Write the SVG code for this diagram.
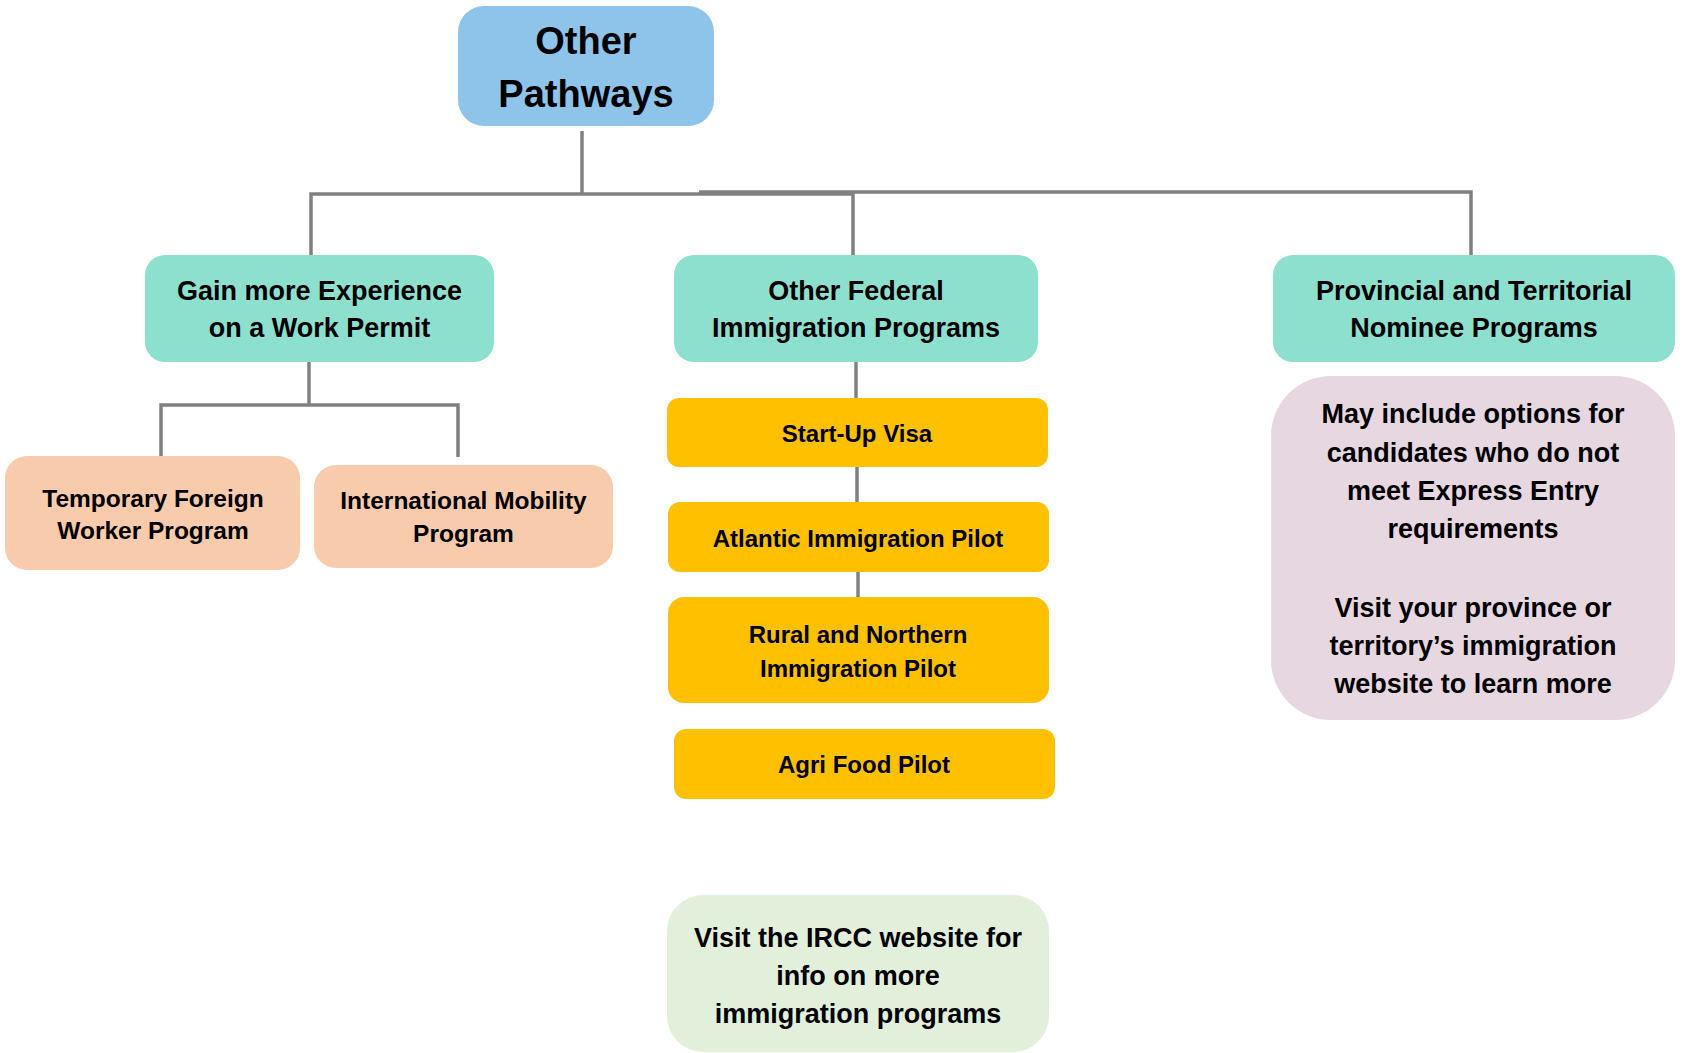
<svg xmlns="http://www.w3.org/2000/svg" width="1682" height="1053" viewBox="0 0 1682 1053">
<style>
text{font-family:"Liberation Sans",Arial,sans-serif;font-weight:bold;fill:#000;text-anchor:middle}
.conn{fill:none;stroke:#808080;stroke-width:3.5}
.t38{font-size:38px}
.t27{font-size:27px}
.t25{font-size:24.5px}
.t24{font-size:24px}
</style>
<rect width="1682" height="1053" fill="#fff"/>
<g id="connectors">
<path class="conn" d="M582,131 V194"/>
<path class="conn" d="M311,255 V194 H853 V255"/>
<path class="conn" d="M699,192 H1471 V257"/>
<path class="conn" d="M309,353 V405"/>
<path class="conn" d="M161,457 V405 H458 V457"/>
<path class="conn" d="M856,362 V400"/>
<path class="conn" d="M857,464 V505"/>
<path class="conn" d="M858,572 V600"/>
</g>
<g id="other-pathways">
<rect x="458" y="6" width="256" height="120" rx="26" fill="#8EC4E9"/>
<text class="t38" x="586" y="54">Other</text>
<text class="t38" x="586" y="107">Pathways</text>
</g>
<g id="work-permit">
<rect x="145" y="255" width="349" height="107" rx="20" fill="#8DE0CE"/>
<text class="t27" x="319.5" y="300">Gain more Experience</text>
<text class="t27" x="319.5" y="337">on a Work Permit</text>
</g>
<g id="federal">
<rect x="674" y="255" width="364" height="107" rx="20" fill="#8DE0CE"/>
<text class="t27" x="856" y="300">Other Federal</text>
<text class="t27" x="856" y="337">Immigration Programs</text>
</g>
<g id="provincial">
<rect x="1273" y="255" width="402" height="107" rx="20" fill="#8DE0CE"/>
<text class="t27" x="1474" y="300">Provincial and Territorial</text>
<text class="t27" x="1474" y="337">Nominee Programs</text>
</g>
<g id="tfw">
<rect x="5" y="456" width="295" height="114" rx="22" fill="#F8CBAD"/>
<text class="t25" x="153" y="507">Temporary Foreign</text>
<text class="t25" x="153" y="539">Worker Program</text>
</g>
<g id="imp">
<rect x="314" y="465" width="299" height="103" rx="22" fill="#F8CBAD"/>
<text class="t25" x="463.5" y="509">International Mobility</text>
<text class="t25" x="463.5" y="542">Program</text>
</g>
<g id="startup">
<rect x="667" y="398" width="381" height="69" rx="12" fill="#FFC000"/>
<text class="t24" x="857" y="442">Start-Up Visa</text>
</g>
<g id="atlantic">
<rect x="668" y="502" width="381" height="70" rx="12" fill="#FFC000"/>
<text class="t24" x="858" y="547">Atlantic Immigration Pilot</text>
</g>
<g id="rural">
<rect x="668" y="597" width="381" height="106" rx="16" fill="#FFC000"/>
<text class="t24" x="858" y="643">Rural and Northern</text>
<text class="t24" x="858" y="677">Immigration Pilot</text>
</g>
<g id="agri">
<rect x="674" y="729" width="381" height="70" rx="12" fill="#FFC000"/>
<text class="t24" x="864" y="773">Agri Food Pilot</text>
</g>
<g id="pnp-note">
<rect x="1271" y="376" width="404" height="344" rx="60" fill="#E6D7E0"/>
<text class="t27" x="1473" y="423">May include options for</text>
<text class="t27" x="1473" y="462">candidates who do not</text>
<text class="t27" x="1473" y="500">meet Express Entry</text>
<text class="t27" x="1473" y="538">requirements</text>
<text class="t27" x="1473" y="617">Visit your province or</text>
<text class="t27" x="1473" y="655">territory’s immigration</text>
<text class="t27" x="1473" y="693">website to learn more</text>
</g>
<g id="ircc-note">
<rect x="667" y="895" width="382" height="157" rx="36" fill="#E2EFDA"/>
<text class="t27" x="858" y="947">Visit the IRCC website for</text>
<text class="t27" x="858" y="985">info on more</text>
<text class="t27" x="858" y="1023">immigration programs</text>
</g>
</svg>
